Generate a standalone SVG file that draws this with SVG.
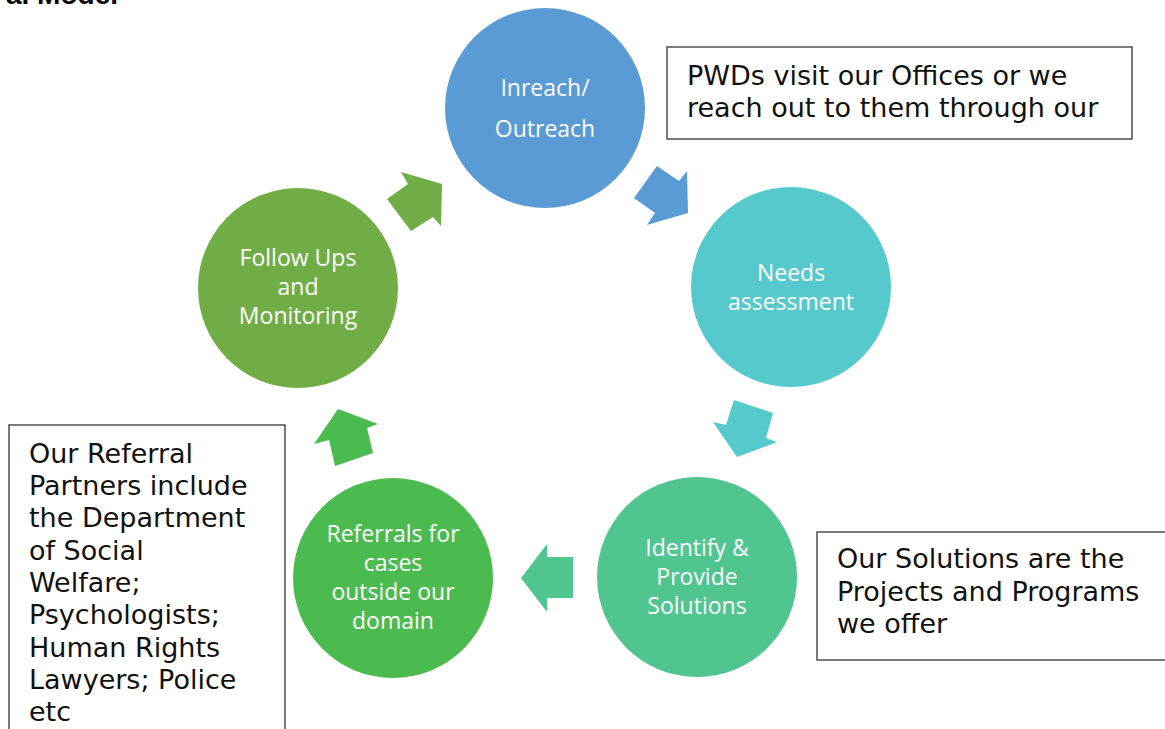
<svg xmlns="http://www.w3.org/2000/svg" width="1165" height="729" viewBox="0 0 1165 729">
  <style>
    .node-label { font-family: "Open Sans", "Noto Sans", sans-serif; font-size: 23px; fill: #ffffff; text-anchor: middle; }
    .note { fill: #ffffff; stroke: #333333; stroke-width: 1.3; }
    .note-text { font-family: "DejaVu Sans", Verdana, sans-serif; font-size: 27px; fill: #111111; }
    .title { font-family: "Liberation Sans", Arial, sans-serif; font-size: 28px; font-weight: bold; fill: #000000; }
  </style>
  <rect width="1165" height="729" fill="#ffffff"/>

  <!-- heading, mostly above the top edge -->
  <text class="title" x="118" y="4" text-anchor="end">al Model</text>

  <!-- cycle arrows -->
  <g id="connectors">
    <polygon fill="#70AD47" points="401,172 442,184 441,226 433,217 411,231 387,199 408,184"/>
    <polygon fill="#5B9BD5" points="657,166 679,181 687,171 688,213 647,225 655,213 634,198"/>
    <polygon fill="#56C9CD" points="734,400 773,413 766,438 777,442 737,457 713,422 726,425"/>
    <polygon fill="#51C590" points="547,544 547,557 573,557 573,598 547,598 547,612 521,578"/>
    <polygon fill="#4BBB4F" points="338,409 378,424 367,428 373,453 335,466 329,440 314,444"/>
  </g>

  <g id="node-inreach">
    <circle cx="545" cy="108" r="100" fill="#5B9BD5"/>
    <text class="node-label" x="545" y="96">Inreach/</text>
    <text class="node-label" x="545" y="137">Outreach</text>
  </g>

  <g id="node-needs">
    <circle cx="791" cy="287" r="100" fill="#56C9CD"/>
    <text class="node-label" x="791" y="281">Needs</text>
    <text class="node-label" x="791" y="310">assessment</text>
  </g>

  <g id="node-solutions">
    <circle cx="697" cy="577" r="100" fill="#51C590"/>
    <text class="node-label" x="697" y="556">Identify &amp;</text>
    <text class="node-label" x="697" y="585">Provide</text>
    <text class="node-label" x="697" y="614">Solutions</text>
  </g>

  <g id="node-referrals">
    <circle cx="393" cy="578" r="100" fill="#4BBB4F"/>
    <text class="node-label" x="393" y="542">Referrals for</text>
    <text class="node-label" x="393" y="571">cases</text>
    <text class="node-label" x="393" y="600">outside our</text>
    <text class="node-label" x="393" y="629">domain</text>
  </g>

  <g id="node-followups">
    <circle cx="298" cy="288" r="100" fill="#70AD47"/>
    <text class="node-label" x="298" y="266">Follow Ups</text>
    <text class="node-label" x="298" y="295">and</text>
    <text class="node-label" x="298" y="324">Monitoring</text>
  </g>

  <!-- explanatory notes -->
  <g id="note-outreach">
    <rect class="note" x="667" y="47" width="465" height="92"/>
    <text class="note-text" x="687" y="85">PWDs visit our Offices or we</text>
    <text class="note-text" x="687" y="117">reach out to them through our</text>
  </g>

  <g id="note-solutions">
    <rect class="note" x="817" y="532" width="360" height="128"/>
    <text class="note-text" x="837" y="568">Our Solutions are the</text>
    <text class="note-text" x="837" y="601">Projects and Programs</text>
    <text class="note-text" x="837" y="633">we offer</text>
  </g>

  <g id="note-referrals">
    <rect class="note" x="9" y="425" width="276" height="320"/>
    <text class="note-text" x="29" y="463">Our Referral</text>
    <text class="note-text" x="29" y="495">Partners include</text>
    <text class="note-text" x="29" y="527">the Department</text>
    <text class="note-text" x="29" y="560">of Social</text>
    <text class="note-text" x="29" y="592">Welfare;</text>
    <text class="note-text" x="29" y="624">Psychologists;</text>
    <text class="note-text" x="29" y="657">Human Rights</text>
    <text class="note-text" x="29" y="689">Lawyers; Police</text>
    <text class="note-text" x="29" y="721">etc</text>
  </g>
</svg>
